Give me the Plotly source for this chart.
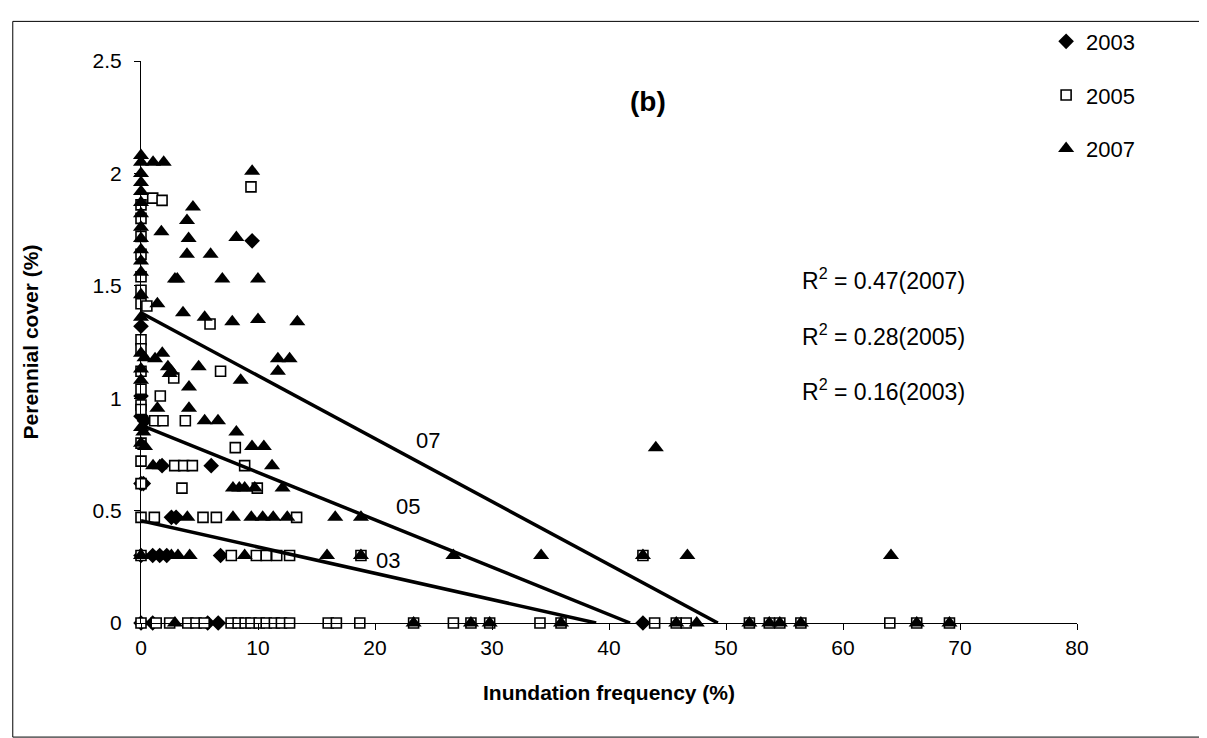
import plotly.graph_objects as go

# =========================
# DATA
# =========================
years = ["2003", "2005", "2007"]

x_2003 = [0, 0, 0, 0, 0, 0, 0.3, 9.5, 1.8, 6.0, 2.6, 3.0, 1.0, 1.6, 2.2, 6.8, 0.2,
          5.7, 6.6, 42.9, 1.0]
y_2003 = [1.32, 1.01, 0.92, 0.62, 0.3, 0, 0.9, 1.7, 0.7, 0.7, 0.47, 0.47, 0.3, 0.3, 0.3, 0.3, 0.62,
          0, 0, 0, 0]

x_2005 = [0, 0, 0, 0, 0, 0, 0, 0, 0, 0, 0, 0, 0, 0, 0, 0, 0, 0, 0,
          1.0, 1.8, 9.4, 0.5, 5.9, 2.8, 6.8, 1.65, 1.17, 1.88, 3.79, 8.06,
          2.88, 3.65, 4.39, 8.86, 3.5, 9.94, 1.14, 5.3, 6.44, 13.3,
          7.72, 9.86, 10.7, 11.6, 12.7, 18.8, 42.9,
          1.3, 2.45, 4.0, 4.7, 5.4, 7.7, 8.3, 8.9, 9.4, 10.1, 10.7, 11.4, 12.0, 12.7,
          16.0, 16.7, 18.7, 23.3, 26.7, 28.2, 29.8, 34.1, 35.9, 43.9, 45.75, 46.6,
          52.0, 53.7, 54.6, 56.4, 64.0, 66.3, 69.1]
y_2005 = [1.86, 1.8, 1.72, 1.64, 1.54, 1.48, 1.42, 1.26, 1.22, 1.12, 1.04, 0.97, 0.95, 0.8,
          0.72, 0.62, 0.47, 0.3, 0,
          1.89, 1.88, 1.94, 1.41, 1.33, 1.09, 1.12, 1.01, 0.9, 0.9, 0.9, 0.78,
          0.7, 0.7, 0.7, 0.7, 0.6, 0.6, 0.47, 0.47, 0.47, 0.47,
          0.3, 0.3, 0.3, 0.3, 0.3, 0.3, 0.3,
          0, 0, 0, 0, 0, 0, 0, 0, 0, 0, 0, 0, 0, 0,
          0, 0, 0, 0, 0, 0, 0, 0, 0, 0, 0, 0,
          0, 0, 0, 0, 0, 0, 0]

x_2007 = [0, 0, 0, 0, 0, 0, 0, 0, 0, 0, 0, 0, 0, 0, 0, 0, 0, 0, 0, 0,
          1.03, 1.94, 9.5, 4.44, 3.93, 1.74, 4.07, 8.15, 3.93, 5.95, 2.9, 3.1, 6.95, 10.0,
          1.4, 3.59, 5.44, 7.8, 10.0, 13.36, 1.82, 0.3, 1.2, 2.3, 2.6, 4.93, 11.7, 12.7,
          11.7, 8.52, 2.45, 4.1, 1.4, 4.1, 5.44, 6.58, 0.2, 8.15, 9.49, 10.5, 0.34,
          1.03, 1.6, 11.2, 7.86, 8.4, 8.86, 9.72, 12.1,
          3.96, 7.86, 9.43, 10.4, 11.3, 12.5, 16.6, 18.8,
          2.6, 3.16, 4.16, 8.86, 15.9, 18.8, 26.7, 34.2, 42.9, 46.7, 64.1, 44.0,
          2.9, 23.3, 28.2, 29.8, 35.9, 45.75, 47.5, 52.0, 53.7, 54.6, 56.4, 66.3, 69.1]
y_2007 = [2.08, 2.05, 2.0, 1.96, 1.92, 1.87, 1.82, 1.76, 1.71, 1.66, 1.61, 1.56, 1.46, 1.36,
          1.2, 1.13, 1.08, 0.87, 0.8, 0.3,
          2.05, 2.05, 2.01, 1.85, 1.79, 1.74, 1.71, 1.715, 1.64, 1.64, 1.53, 1.53, 1.53, 1.53,
          1.42, 1.38, 1.36, 1.34, 1.35, 1.34, 1.2, 1.18, 1.176, 1.14, 1.12, 1.14, 1.176, 1.176,
          1.12, 1.08, 1.11, 1.05, 0.955, 0.955, 0.9, 0.9, 0.85, 0.85, 0.785, 0.785, 0.785,
          0.7, 0.7, 0.7, 0.6, 0.6, 0.6, 0.6, 0.6,
          0.47, 0.47, 0.47, 0.47, 0.47, 0.47, 0.47, 0.47,
          0.3, 0.3, 0.3, 0.3, 0.3, 0.3, 0.3, 0.3, 0.3, 0.3, 0.3, 0.78,
          0, 0, 0, 0, 0, 0, 0, 0, 0, 0, 0, 0, 0]

# trend line end points (intercept on each axis)
fit_x = [[0, 38.9], [0, 41.8], [0, 49.3]]
fit_y = [[0.455, 0], [0.88, 0], [1.38, 0]]

r2_text = ["R<sup>2</sup> = 0.47(2007)", "R<sup>2</sup> = 0.28(2005)", "R<sup>2</sup> = 0.16(2003)"]

FONT = "Liberation Sans, Arial, sans-serif"

# =========================
# FIGURE
# =========================
fig = go.Figure()

fig.add_trace(go.Scatter(
    x=x_2003, y=y_2003, mode="markers", name=years[0], legendgroup="a",
    marker=dict(symbol="diamond", size=12, color="black"),
    cliponaxis=False,
))
fig.add_trace(go.Scatter(
    x=x_2005, y=y_2005, mode="markers", name=years[1], legendgroup="b",
    marker=dict(symbol="square", size=10, color="white", line=dict(color="black", width=1.6)),
    cliponaxis=False,
))
fig.add_trace(go.Scatter(
    x=x_2007, y=y_2007, mode="markers", name=years[2], legendgroup="c",
    marker=dict(symbol="triangle-up", size=14, color="black"),
    cliponaxis=False,
))

for fx, fy in zip(fit_x, fit_y):
    fig.add_trace(go.Scatter(
        x=fx, y=fy, mode="lines", showlegend=False,
        line=dict(color="black", width=3.5),
    ))

# line labels
fig.add_annotation(x=24.5, y=0.81, text="07", showarrow=False, font=dict(size=22))
fig.add_annotation(x=22.8, y=0.52, text="05", showarrow=False, font=dict(size=22))
fig.add_annotation(x=21.1, y=0.28, text="03", showarrow=False, font=dict(size=22))

# R squared labels
for txt, yy in zip(r2_text, [1.53, 1.28, 1.036]):
    fig.add_annotation(x=56.3, y=yy, text=txt, showarrow=False, xanchor="left",
                       font=dict(size=23))

# panel label
fig.add_annotation(x=43.3, y=2.32, text="<b>(b)</b>", showarrow=False, font=dict(size=28))

# outer frame
fig.add_shape(type="rect", xref="paper", yref="paper",
              x0=-0.137, x1=1.14, y0=-0.203, y1=1.0705,
              line=dict(color="black", width=1))

fig.update_xaxes(
    range=[0, 80], dtick=10, showgrid=False, zeroline=False,
    showline=True, linecolor="black", linewidth=1,
    ticks="outside", ticklen=6, tickcolor="black",
    tickfont=dict(size=21),
    title=dict(text="<b>Inundation frequency (%)</b>", font=dict(size=21), standoff=27),
)
fig.update_yaxes(
    range=[0, 2.5], dtick=0.5, showgrid=False, zeroline=False,
    showline=True, linecolor="black", linewidth=1,
    ticks="outside", ticklen=6, tickcolor="black", ticklabelstandoff=8,
    tickfont=dict(size=21),
    title=dict(text="<b>Perennial cover (%)</b>", font=dict(size=21), standoff=48),
)

fig.update_layout(
    width=1207, height=738,
    margin=dict(l=133, r=138, t=48, b=123),
    paper_bgcolor="white", plot_bgcolor="white",
    font=dict(family=FONT, color="black"),
    legend=dict(x=0.967, y=1.072, xanchor="left", yanchor="top",
                font=dict(size=22), tracegroupgap=22, bgcolor="rgba(0,0,0,0)"),
)

fig.write_html("out.html")
